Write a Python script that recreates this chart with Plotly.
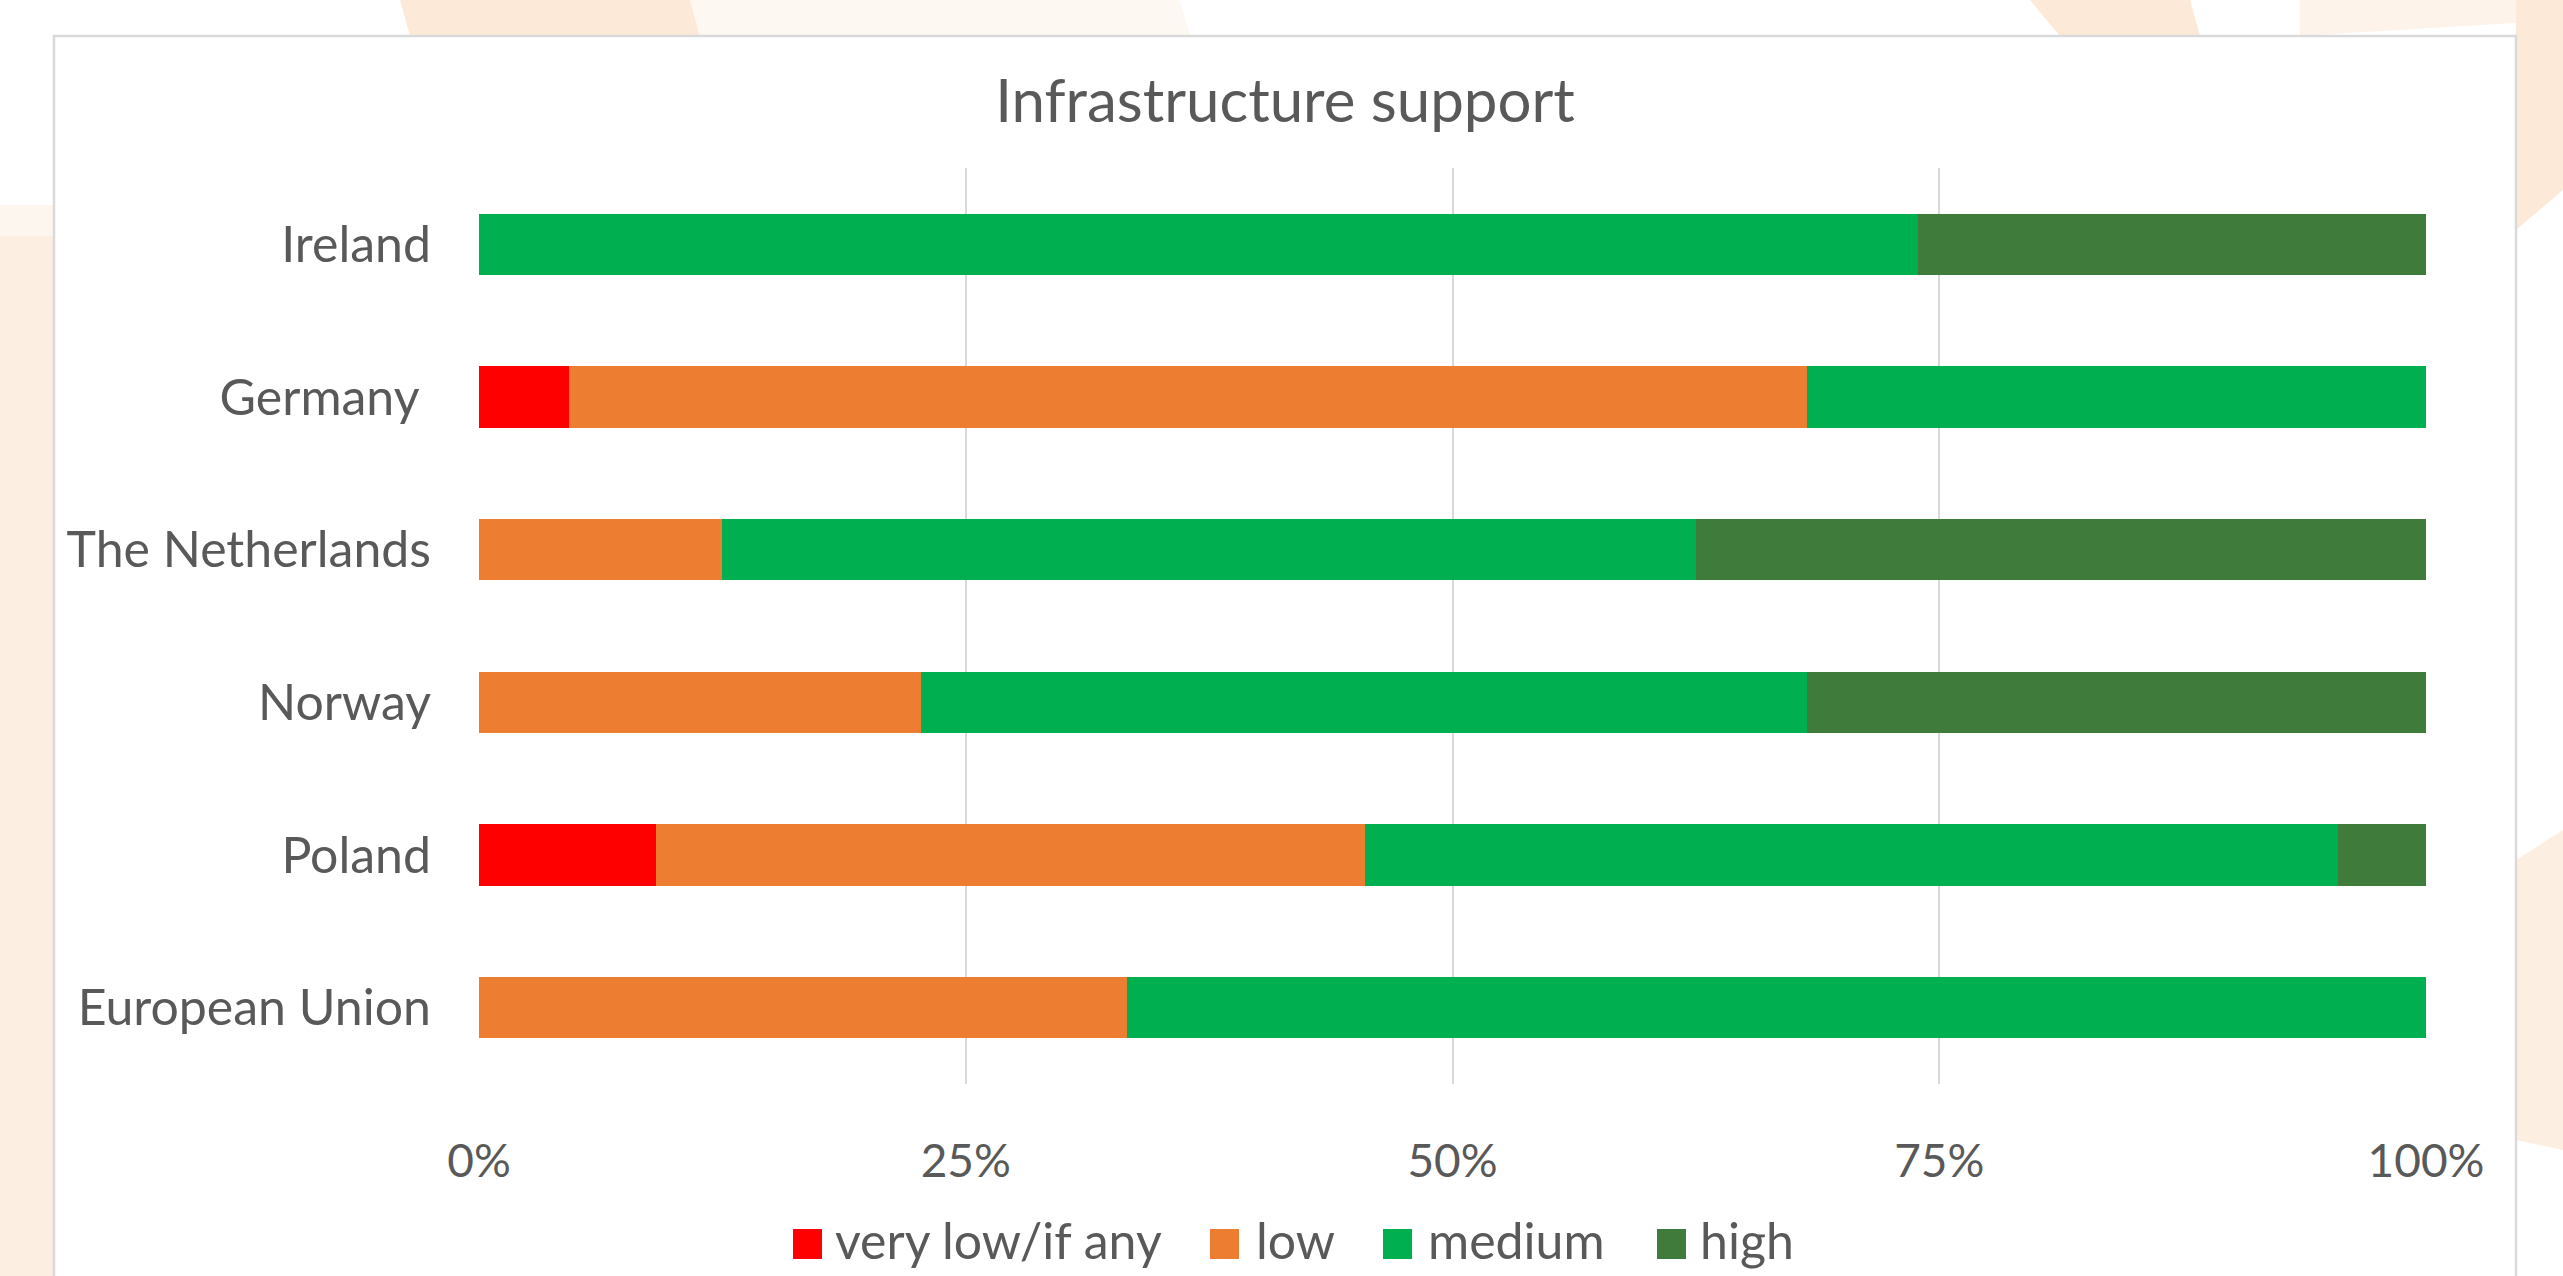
import plotly.graph_objects as go

W, H = 2563, 1276

# ---- data ----
countries = ["Ireland", "Germany ", "The Netherlands", "Norway", "Poland", "European Union"]
levels = ["very low/if any", "low", "medium", "high"]
very_low = [0.0, 4.6, 0.0, 0.0, 9.1, 0.0]
low = [0.0, 63.6, 12.5, 22.7, 36.4, 33.3]
medium = [73.9, 31.8, 50.0, 45.5, 50.0, 66.7]
high = [26.1, 0.0, 37.5, 31.8, 4.5, 0.0]
x_ticks = [0, 25, 50, 75, 100]
x_tick_labels = ["0%", "25%", "50%", "75%", "100%"]

colors = ["#FF0000", "#ED7D31", "#00B050", "#3F7B3A"]
series = [very_low, low, medium, high]

FONT = "Lato"
TXT = "#595959"


def px(x):
    return x / W


def py(y):
    return 1 - y / H


fig = go.Figure()
for name, vals, col in zip(levels, series, colors):
    fig.add_trace(go.Bar(
        y=countries, x=vals, name=name, orientation="h",
        marker=dict(color=col, line=dict(width=0)),
        showlegend=False,
    ))

shapes = []
peach = "#FCEEE1"
peach2 = "#FCE9D7"


def poly(pts, color):
    d = "M " + " L ".join(f"{px(a):.5f},{py(b):.5f}" for a, b in pts) + " Z"
    return dict(type="path", path=d, xref="paper", yref="paper",
                fillcolor=color, line=dict(width=0), layer="below")


# decorative watermark pieces in the margins
shapes.append(poly([(0, 236), (54, 236), (54, 1276), (0, 1276)], peach))
shapes.append(poly([(0, 205), (54, 205), (54, 236), (0, 236)], "#FDF6EE"))
shapes.append(poly([(400, 0), (690, 0), (700, 36), (410, 36)], peach2))
shapes.append(poly([(690, 0), (1180, 0), (1190, 36), (700, 36)], "#FEF8F2"))
shapes.append(poly([(2030, 0), (2190, 0), (2200, 36), (2060, 36)], peach2))
shapes.append(poly([(2300, 0), (2563, 0), (2563, 20), (2300, 36)], "#FDF3EA"))
shapes.append(poly([(2516, 0), (2563, 0), (2563, 190), (2516, 230)], peach2))
shapes.append(poly([(2516, 860), (2563, 830), (2563, 1150), (2516, 1140)], peach))
# chart box
shapes.append(dict(type="rect", xref="paper", yref="paper",
                   x0=px(54), x1=px(2516), y0=py(1300), y1=py(36),
                   fillcolor="white", line=dict(color="#D9D9D9", width=2.5),
                   layer="below"))

# custom legend with large square swatches
annotations = []
sw_x = [793, 1210, 1383, 1657]
tx_x = [833, 1254, 1426, 1698]
for name, col, sx, tx in zip(levels, colors, sw_x, tx_x):
    shapes.append(dict(type="rect", xref="paper", yref="paper",
                       x0=px(sx), x1=px(sx + 29), y0=py(1259), y1=py(1229),
                       fillcolor=col, line=dict(width=0)))
    annotations.append(dict(text=name, x=px(tx), y=py(1240), xref="paper", yref="paper",
                            xanchor="left", yanchor="middle", showarrow=False,
                            font=dict(family=FONT, size=50, color=TXT)))

fig.update_layout(
    width=W, height=H,
    margin=dict(l=0, r=0, t=0, b=0),
    paper_bgcolor="white", plot_bgcolor="rgba(0,0,0,0)",
    barmode="stack", bargap=0.6,
    font=dict(family=FONT, color=TXT),
    title=dict(text="Infrastructure support", x=px(1285), xanchor="center",
               y=py(101), yanchor="middle", xref="paper", yref="paper",
               font=dict(family=FONT, size=60, color=TXT)),
    xaxis=dict(domain=[px(479), px(2426)], range=[0, 100], tickvals=x_ticks,
               ticktext=x_tick_labels, showgrid=True, gridcolor="#D9D9D9", gridwidth=2,
               zeroline=False, showline=False, ticks="", automargin=False,
               ticklabelstandoff=46, tickfont=dict(family=FONT, size=46, color=TXT)),
    yaxis=dict(domain=[py(1084), py(168)], autorange="reversed", showgrid=False,
               zeroline=False, showline=False, ticks="", automargin=False,
               ticklabelstandoff=47, tickfont=dict(family=FONT, size=50, color=TXT)),
    shapes=shapes, annotations=annotations,
)

fig.write_html("out.html")
